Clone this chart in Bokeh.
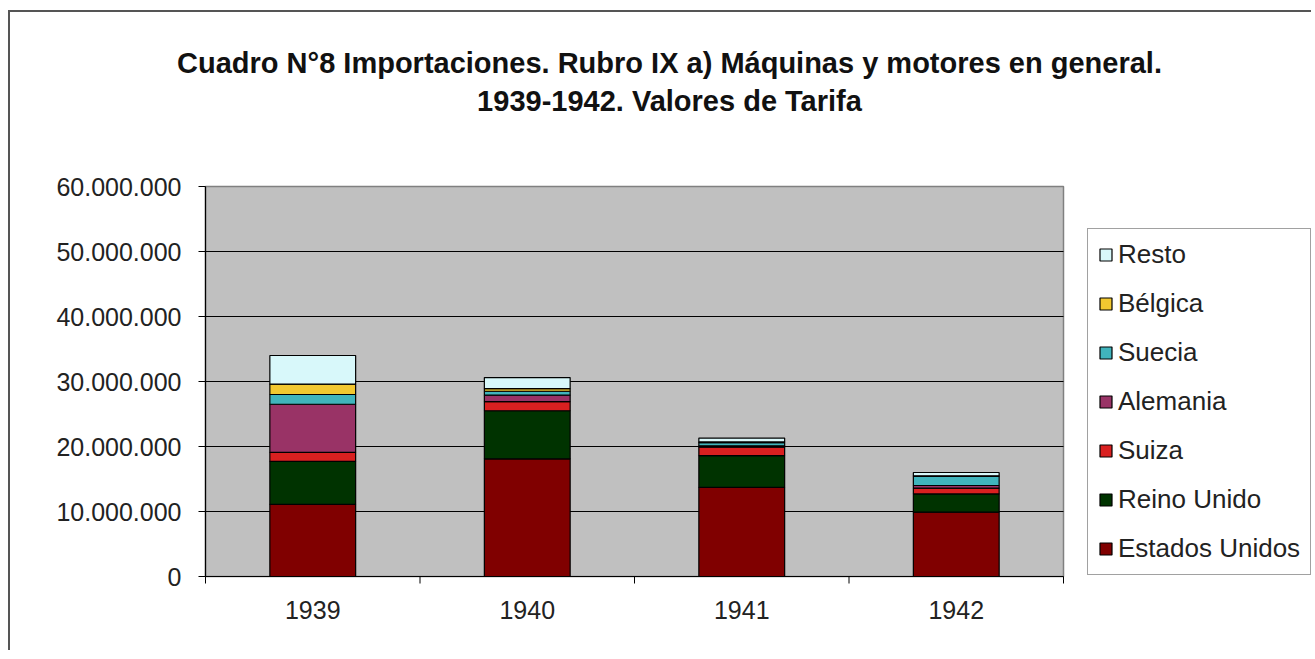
from bokeh.plotting import figure
from bokeh.models import Range1d, Legend, LegendItem, ColumnDataSource
from bokeh.core.properties import value
from bokeh.embed import file_html
from bokeh.resources import INLINE

# ---- data ----
years = ["1939", "1940", "1941", "1942"]
series = ["Estados Unidos", "Reino Unido", "Suiza", "Alemania", "Suecia", "Bélgica", "Resto"]
estados_unidos = [11100000, 18100000, 13700000, 9900000]
reino_unido = [6600000, 7400000, 4900000, 2800000]
suiza = [1400000, 1400000, 1300000, 900000]
alemania = [7400000, 1000000, 200000, 400000]
suecia = [1500000, 600000, 500000, 1400000]
belgica = [1600000, 400000, 100000, 100000]
resto = [4400000, 1700000, 600000, 500000]
colors = ["#800000", "#003300", "#D92020", "#993366", "#40B4BC", "#F2C830", "#D8F8FA"]
y_ticks = [0, 10000000, 20000000, 30000000, 40000000, 50000000, 60000000]
y_tick_labels = ["0", "10.000.000", "20.000.000", "30.000.000", "40.000.000", "50.000.000", "60.000.000"]
title_line1 = "Cuadro N°8 Importaciones. Rubro IX a) Máquinas y motores en general."
title_line2 = "1939-1942. Valores de Tarifa"

# ---- layout geometry (pixels, relative to the canvas) ----
W, H = 1303, 640
PLOT_LEFT = 195          # grey plot area: left edge
PLOT_BOTTOM = 564        # grey plot area: bottom edge (y = 0)
PLOT_W, PLOT_H = 858, 390
Y_MAX = y_ticks[-1]
N = len(years)
x_per_px = N / PLOT_W
y_per_px = Y_MAX / PLOT_H

xs = [i + 0.5 for i in range(N)]
source = ColumnDataSource(dict(
    x=xs,
    **{
        "Estados Unidos": estados_unidos,
        "Reino Unido": reino_unido,
        "Suiza": suiza,
        "Alemania": alemania,
        "Suecia": suecia,
        "Bélgica": belgica,
        "Resto": resto,
    }
))

FONT = "Liberation Sans"

p = figure(width=W, height=H,
           x_range=Range1d(-PLOT_LEFT * x_per_px, (W - PLOT_LEFT) * x_per_px),
           y_range=Range1d(-(H - PLOT_BOTTOM) * y_per_px, PLOT_BOTTOM * y_per_px),
           x_axis_location=None, y_axis_location=None,
           output_backend="svg", toolbar_location=None,
           min_border=0,
           styles={"position": "relative", "left": "8px", "top": "10px",
                   "border-left": "2px solid #555555", "border-top": "2px solid #555555"})

p.background_fill_color = "white"
p.border_fill_color = "white"
p.outline_line_color = None
p.xgrid.grid_line_color = None
p.ygrid.grid_line_color = None

# grey plot area
p.quad(left=[0], right=[N], bottom=[0], top=[Y_MAX],
       fill_color="#C0C0C0", line_color="#808080", line_width=1.5)
# horizontal gridlines
grid_ys = y_ticks[1:-1]
p.segment(x0=[0] * len(grid_ys), x1=[N] * len(grid_ys), y0=grid_ys, y1=grid_ys,
          line_color="black", line_width=1)

renderers = p.vbar_stack(series, x="x", width=0.4, source=source,
                         fill_color=colors, line_color="black", line_width=1.2)

# axis lines limited to the plot area
p.segment(x0=[0, 0], y0=[0, 0], x1=[0, N], y1=[Y_MAX, 0], line_color="black", line_width=1.2)

# value axis: ticks and labels
tick_x = 7 * x_per_px
p.segment(x0=[-tick_x] * len(y_ticks), x1=[0] * len(y_ticks), y0=y_ticks, y1=y_ticks,
          line_color="black", line_width=1)
p.text(x=[-24 * x_per_px] * len(y_ticks), y=y_ticks, text=y_tick_labels,
       text_align="right", text_baseline="middle",
       text_font=value(FONT), text_font_size="25px", text_color="#222222")

# category axis: boundary ticks and year labels
bounds = list(range(N + 1))
tick_y = 7 * y_per_px
p.segment(x0=bounds, x1=bounds, y0=[0] * len(bounds), y1=[-tick_y] * len(bounds),
          line_color="black", line_width=1)
p.text(x=xs, y=[-33 * y_per_px] * N, text=years,
       text_align="center", text_baseline="middle",
       text_font=value(FONT), text_font_size="25px", text_color="#222222")

# legend (location in pixels from the canvas bottom-left)
items = [LegendItem(label=name, renderers=[r]) for name, r in zip(series, renderers)][::-1]
legend = Legend(items=items, location=(1077, H - PLOT_BOTTOM + 1),
                label_text_font=FONT, label_text_font_size="26px", label_text_color="#222222",
                glyph_width=15, glyph_height=15, label_height=26, label_standoff=5,
                spacing=18, padding=10, margin=0,
                border_line_color="#444444", border_line_width=1.2,
                background_fill_color="white", background_fill_alpha=1)
p.add_layout(legend)

# two-line title
title_cx = 464 * x_per_px
p.text(x=[title_cx, title_cx], y=[514 * y_per_px, 476 * y_per_px],
       text=[title_line1, title_line2],
       text_align="center", text_baseline="middle",
       text_font=value(FONT), text_font_style="bold", text_font_size="29px",
       text_color="#111111")

open("out.html", "w").write(file_html(p, INLINE))
